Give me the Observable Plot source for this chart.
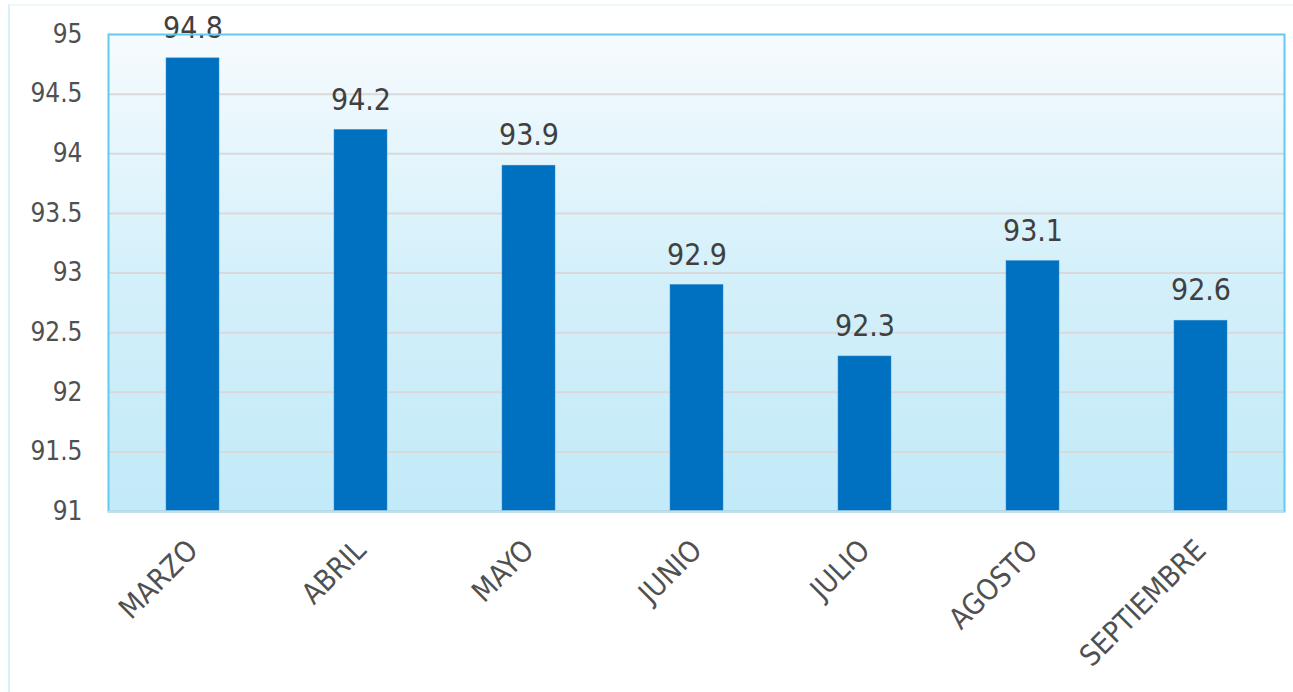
<!DOCTYPE html>
<html>
<head>
<meta charset="utf-8">
<script src="https://cdn.jsdelivr.net/npm/d3@7"></script>
<script src="https://cdn.jsdelivr.net/npm/@observablehq/plot@0.6"></script>
<style>
  html, body { margin: 0; padding: 0; background: #fff; }
  #wrap { position: relative; width: 1293px; height: 692px; overflow: hidden; }
  #outline { position: absolute; left: 8px; top: 4px; right: -4px; bottom: -4px;
             border-left: 2px solid #d6f0fb; border-top: 2px solid #eef7fc; pointer-events: none; }
</style>
</head>
<body>
<div id="wrap"><div id="outline"></div></div>
<script>
const months = ["MARZO", "ABRIL", "MAYO", "JUNIO", "JULIO", "AGOSTO", "SEPTIEMBRE"];
const values = [94.8, 94.2, 93.9, 92.9, 92.3, 93.1, 92.6];
const yTicks = [91, 91.5, 92, 92.5, 93, 93.5, 94, 94.5, 95];

const data = months.map((m, i) => ({month: m, value: values[i]}));
const font = "'DejaVu Sans Condensed', 'DejaVu Sans', sans-serif";

const chart = Plot.plot({
  width: 1293,
  height: 692,
  marginLeft: 108,
  marginRight: 9,
  marginTop: 34,
  marginBottom: 181,
  style: {fontFamily: font, fontSize: "26px", color: "#4a4a4a", background: "transparent", fontStretch: "condensed"},
  x: {domain: months, paddingInner: 0.685, paddingOuter: 0.3425, label: null},
  y: {domain: [91, 95], label: null},
  marks: [
    Plot.frame({fill: "url(#bgGrad)", stroke: null}),
    Plot.ruleY(yTicks.slice(1, -1), {stroke: "#d9d9d9", strokeWidth: 2}),
    Plot.barY(data, {x: "month", y1: 91, y2: "value", fill: "#0070c0", stroke: "#3a8fd0", strokeWidth: 0.5}),
    Plot.text(data, {x: "month", y: "value", text: d => d.value.toFixed(1), dy: -30, fontSize: 30, fill: "#404040"}),
    Plot.axisY(yTicks, {tickFormat: d => String(d), label: null, tickSize: 0, tickPadding: 26, fontSize: 26, fill: "#505050"}),
    Plot.axisX({label: null, tickSize: 0, tickPadding: 34, tickRotate: -45, fontSize: 29, fill: "#505050"}),
    Plot.frame({stroke: "#62c9ef", strokeWidth: 2}),
    Plot.ruleY([91], {stroke: "#d4d9dc", strokeWidth: 2})
  ]
});

const defs = d3.create("svg:defs");
const g = defs.append("linearGradient").attr("id", "bgGrad").attr("x1", 0).attr("y1", 0).attr("x2", 0).attr("y2", 1);
g.append("stop").attr("offset", "0%").attr("stop-color", "#f6fbfe");
g.append("stop").attr("offset", "50%").attr("stop-color", "#d4f0fa");
g.append("stop").attr("offset", "100%").attr("stop-color", "#c2eaf8");
chart.insertBefore(defs.node(), chart.firstChild);

document.getElementById("wrap").appendChild(chart);
chart.style.position = "absolute";
chart.style.left = "0";
chart.style.top = "0";
</script>
</body>
</html>
